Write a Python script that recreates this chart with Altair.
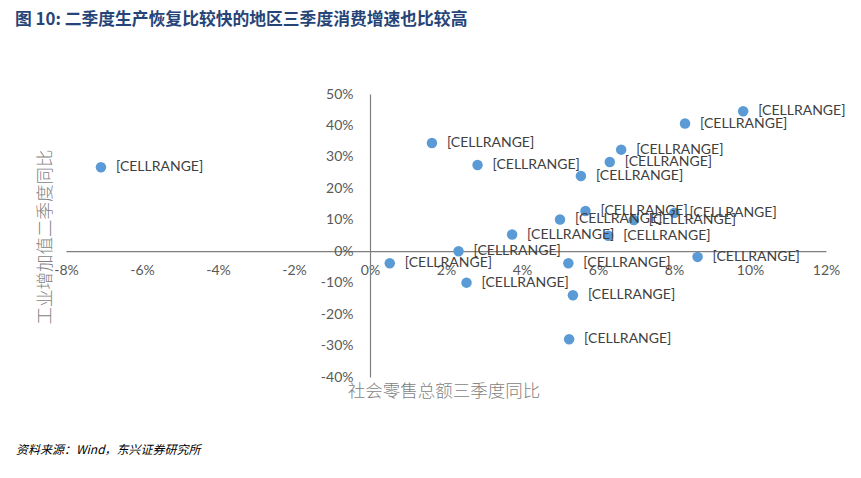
import altair as alt
import pandas as pd

# consumption growth Q3 (x, %) and industrial value-added growth Q2 (y, %)
retail_q3 = [-7.08, 1.63, 2.83, 5.55, 6.31, 6.61, 8.29, 9.82, 5.67, 5.00, 6.94,
             8.01, 3.74, 6.27, 2.33, 0.52, 5.22, 8.62, 2.54, 5.34, 5.24]
industry_q2 = [26.7, 34.4, 27.4, 23.9, 28.4, 32.3, 40.6, 44.5, 12.8, 10.1, 9.9,
               12.2, 5.3, 4.9, 0.0, -3.8, -3.8, -1.8, -10.0, -14.0, -28.0]
labels = ["[CELLRANGE]"] * len(retail_q3)

x_ticks = [-0.08, -0.06, -0.04, -0.02, 0.0, 0.02, 0.04, 0.06, 0.08, 0.10, 0.12]
y_ticks = [-0.4, -0.3, -0.2, -0.1, 0.0, 0.1, 0.2, 0.3, 0.4, 0.5]

title_text = "图 10: 二季度生产恢复比较快的地区三季度消费增速也比较高"
x_title = "社会零售总额三季度同比"
y_title = "工业增加值二季度同比"
source_text = "资料来源：Wind，东兴证券研究所"

df = pd.DataFrame({
    "x": [v / 100 for v in retail_q3],
    "y": [v / 100 for v in industry_q2],
    "label": labels,
})

W, H = 760, 283
xdom = [-0.08, 0.12]
ydom = [-0.4, 0.5]
# pixel distance of the zero lines from the left / bottom edges
y_axis_off = -W * (0 - xdom[0]) / (xdom[1] - xdom[0])
x_axis_off = -H * (0 - ydom[0]) / (ydom[1] - ydom[0])

LBL = "#595959"
xs = alt.Scale(domain=xdom, nice=False, zero=False)
ys = alt.Scale(domain=ydom, nice=False, zero=False)
fix_minus = "replace(datum.label, '\u2212', '-')"

x_axis = alt.Axis(
    values=x_ticks, format=".0%", labelExpr=fix_minus, title=None, grid=False,
    ticks=False, domainColor="#7f7f7f", domainWidth=1.2, labelColor=LBL,
    labelFont="Lato", labelFontSize=14, labelPadding=12, offset=x_axis_off,
    labelFlush=False, labelOverlap=False)
y_axis = alt.Axis(
    values=y_ticks, format=".0%", labelExpr=fix_minus, title=None, grid=False,
    ticks=False, domainColor="#7f7f7f", domainWidth=1.2, labelColor=LBL,
    labelFont="Lato", labelFontSize=14, labelPadding=17, offset=y_axis_off,
    labelFlush=False, labelOverlap=False)

points = alt.Chart(df).mark_circle(size=110, color="#5b9bd5", opacity=1).encode(
    x=alt.X("x:Q", scale=xs, axis=x_axis),
    y=alt.Y("y:Q", scale=ys, axis=y_axis),
)

texts = alt.Chart(df).mark_text(
    align="left", baseline="middle", dx=15, fontSize=14, font="Lato",
    color="#404040").encode(x=alt.X("x:Q", scale=xs, axis=x_axis),
                            y=alt.Y("y:Q", scale=ys, axis=y_axis),
                            text="label:N")

one = alt.Data(values=[{}])
ytitle = alt.Chart(one).mark_text(
    angle=270, fontSize=17.5, font="Noto Sans CJK SC", fontWeight=300,
    color="#7f7f7f", align="center", baseline="middle").encode(
    x=alt.value(-20), y=alt.value(143), text=alt.value(y_title))
xtitle = alt.Chart(one).mark_text(
    fontSize=17.5, font="Noto Sans CJK SC", fontWeight=300,
    color="#7f7f7f", align="center", baseline="middle").encode(
    x=alt.value(378), y=alt.value(298), text=alt.value(x_title))
source = alt.Chart(one).mark_text(
    fontSize=12, font="Noto Sans CJK SC", fontStyle="italic",
    color="#000000", align="left", baseline="middle").encode(
    x=alt.value(-50), y=alt.value(356), text=alt.value(source_text))
ttl = alt.Chart(one).mark_text(
    fontSize=16.8, font="Noto Sans CJK SC", fontWeight="bold",
    color="#264478", align="left", baseline="middle").encode(
    x=alt.value(-51), y=alt.value(-74), text=alt.value(title_text))

chart = alt.layer(points, texts, ytitle, xtitle, source, ttl).properties(
    width=W, height=H,
    autosize=alt.AutoSizeParams(type="none"),
    padding={"left": 66, "top": 94, "right": 35, "bottom": 101},
    background="white",
).configure_view(stroke=None)

chart.save("out.html", embed_options={"renderer": "svg", "actions": False})
